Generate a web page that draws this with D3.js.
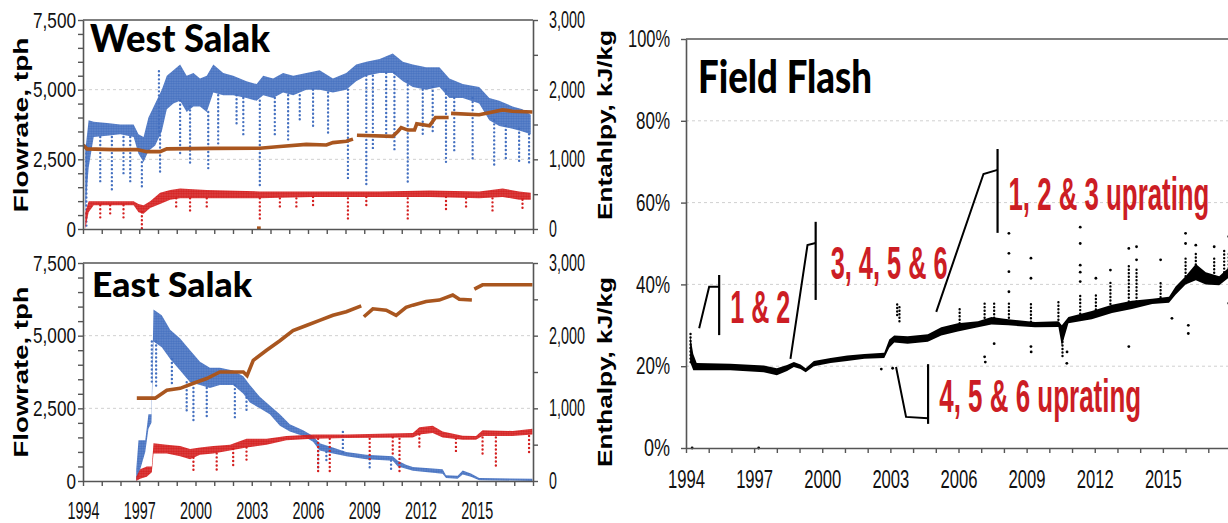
<!DOCTYPE html>
<html><head><meta charset="utf-8">
<script src="https://cdn.jsdelivr.net/npm/d3@7"></script>
<style>body{margin:0;background:#fff}svg{display:block}</style>
</head><body>
<svg id="c" width="1228" height="523"></svg>
<script>
// ---------------- DATA ----------------
const yearTicks = d3.range(1994, 2018);
const yearLabels = [1994, 1997, 2000, 2003, 2006, 2009, 2012, 2015];
const flowLabels = [0, 2500, 5000, 7500];
const enthLabels = [0, 1000, 2000, 3000];
const flashLabels = [0, 20, 40, 60, 80, 100];

// West Salak flowrate (blue) dense band: [year, low, high] tph
const wsFlowBand = [[1994.12,600,2800],[1994.30,2200,3900],[1994.57,3300,3850],[1995.28,3350,3800],[1995.99,3400,3750],[1996.70,3300,3750],[1996.96,2700,3400],[1997.23,2400,3300],[1997.49,2800,4000],[1997.85,3000,4500],[1998.20,3500,5000],[1998.47,4300,5500],[1998.82,4500,5700],[1999.18,4600,5900],[1999.53,4200,5500],[1999.89,4400,5600],[2000.24,4400,5400],[2000.60,4200,5500],[2000.95,4900,5900],[2001.48,4800,5600],[2002.01,4800,5500],[2002.72,4700,5300],[2003.26,4600,5200],[2003.61,4800,5500],[2004.14,4700,5400],[2004.67,4900,5600],[2005.21,4800,5500],[2005.91,5000,5600],[2006.62,5000,5700],[2007.33,4900,5400],[2008.04,5000,5600],[2008.57,5300,5900],[2009.11,5500,6000],[2009.82,5600,6100],[2010.52,5600,6300],[2011.06,5300,6000],[2011.59,5100,5900],[2012.30,5000,5800],[2013.01,5100,5800],[2013.54,4700,5400],[2014.25,4700,5200],[2015.13,4500,5100],[2015.67,3900,4700],[2016.20,3700,4600],[2016.91,3600,4400],[2017.44,3500,4300],[2017.88,3400,4100]];
// West Salak flowrate scattered drops: [year, from, to]
const wsFlowSpikes = [[1994.18,3000,0],[1994.92,3300,1600],[1995.54,3300,1300],[1996.16,3300,1900],[1996.52,3300,1700],[1997.14,2400,1500],[1998.05,3500,5800],[1998.11,3500,2000],[1999.18,4600,2700],[1999.71,4400,2300],[2000.68,4200,2100],[2001.21,4800,3000],[2002.19,4800,3700],[2002.55,4700,3300],[2003.43,4600,1500],[2004.23,4700,3300],[2004.94,4800,3200],[2005.56,4800,3800],[2006.27,5000,3700],[2007.07,4900,3400],[2008.13,5000,1700],[2009.11,5500,1600],[2009.46,5500,2800],[2010.17,5600,3200],[2010.61,5600,2800],[2011.32,5300,1600],[2012.12,5000,3300],[2012.65,5100,3400],[2013.36,5000,2300],[2013.80,4700,2700],[2014.78,4700,2500],[2015.93,3900,2200],[2016.55,3700,2500],[2017.26,3600,2400],[2017.79,3400,2300]];
// West Salak steam flow (red) band
const wsSteamBand = [[1994.12,0,600],[1994.30,600,1000],[1994.57,850,1000],[1996.70,850,1000],[1996.96,600,900],[1997.23,550,850],[1997.58,750,1000],[1998.11,900,1300],[1998.65,1050,1400],[1999.18,1100,1450],[2000.60,1100,1400],[2003.43,1100,1350],[2006.27,1150,1350],[2009.82,1150,1350],[2012.48,1150,1380],[2015.13,1100,1350],[2016.38,1150,1450],[2017.26,1050,1350],[2017.88,1050,1300]];
const wsSteamSpikes = [[1994.92,850,400],[1995.45,850,450],[1996.16,850,400],[1997.14,600,0],[1998.97,1100,700],[1999.71,1100,600],[2000.60,1100,700],[2003.43,1100,300],[2004.50,1100,700],[2005.38,1100,700],[2006.27,1150,750],[2008.13,1100,250],[2009.11,1150,750],[2011.32,1100,250],[2013.36,1150,600],[2014.43,1100,750],[2015.84,1100,650],[2017.44,1050,700]];
// West Salak enthalpy (brown), kJ/kg; null = gap
const wsEnth = [[1994.0,1206],[1994.21,1150],[1995.63,1140],[1996.87,1140],[1997.40,1110],[1998.11,1110],[1998.47,1150],[2000.95,1158],[2003.43,1160],[2004.50,1185],[2005.91,1215],[2006.98,1205],[2007.33,1240],[2008.04,1260],[2008.40,1290],null,[2008.61,1345],[2010.52,1330],[2010.79,1400],[2010.97,1455],[2011.32,1420],[2011.68,1420],[2011.80,1510],[2012.48,1480],[2012.80,1600],[2013.50,1600],null,[2013.63,1660],[2015.13,1640],[2016.38,1710],[2016.90,1690],[2017.97,1680]];
const wsEnthLow = [[2003.28,12],[2003.48,12]];

// East Salak flowrate (blue) band
const esFlowBand = [[1996.84,0,400],[1996.96,200,1400],[1997.32,1000,1400],[1997.49,1800,2300],[1997.65,2000,2300],[1997.76,4800,5900],[1998.20,4600,5700],[1998.65,4200,5200],[1999.18,3800,4900],[1999.71,3400,4500],[2000.24,3300,4100],[2000.77,3200,3900],[2001.30,3300,3900],[2002.01,3300,3800],[2002.55,3000,3600],[2002.90,2700,3300],[2003.43,2500,2900],[2003.96,2300,2600],[2004.50,1900,2300],[2005.03,1700,1950],[2005.74,1550,1750],[2006.27,1350,1550],[2006.62,1050,1300],[2007.33,950,1150],[2008.04,850,1000],[2009.11,750,900],[2010.52,700,850],[2010.79,500,700],[2011.23,420,560],[2011.59,350,480],[2013.18,250,400],[2013.36,100,200],[2013.98,80,180],[2014.25,220,360],[2014.69,150,260],[2015.13,30,100],[2017.97,0,80]];
const esFlowSpikes = [[1997.67,4800,3400],[1997.90,4800,3200],[1998.74,4200,3300],[1999.53,3400,2400],[1999.89,3200,2000],[2000.60,3200,2100],[2002.10,3300,2100],[2002.72,3000,2400],[2006.54,1300,400],[2006.98,1000,600],[2007.86,1000,1800],[2009.29,750,400],[2010.43,700,350]];
// East Salak steam flow (red) band
const esSteamBand = [[1996.84,0,150],[1997.05,80,400],[1997.40,150,500],[1997.67,300,500],[1997.76,950,1300],[1998.47,950,1250],[1999.18,850,1200],[1999.71,750,1100],[2000.24,900,1150],[2000.95,950,1200],[2001.84,1050,1250],[2002.72,1150,1450],[2003.79,1250,1450],[2004.85,1400,1550],[2006.27,1450,1600],[2008.04,1480,1600],[2011.59,1500,1650],[2011.94,1600,1850],[2012.65,1650,1900],[2013.18,1500,1700],[2014.25,1420,1560],[2014.96,1420,1550],[2015.31,1550,1750],[2016.91,1550,1720],[2017.97,1600,1800]];
const esSteamSpikes = [[1999.89,800,250],[2001.13,950,350],[2002.01,1100,450],[2002.72,1150,600],[2006.54,1450,300],[2007.16,1450,300],[2009.29,1450,700],[2010.52,1500,900],[2010.88,1450,250],[2011.94,1600,1100],[2013.89,1450,1000],[2015.31,1500,900],[2016.02,1500,450],[2017.79,1550,900]];
// East Salak enthalpy (brown)
const esEnth = [[1996.87,1140],[1997.85,1140],[1998.47,1250],[1999.18,1275],[1999.89,1345],[2000.60,1410],[2001.30,1500],[2002.55,1500],[2002.75,1450],[2003.08,1660],[2003.79,1800],[2004.50,1930],[2005.20,2070],[2005.91,2140],[2006.62,2210],[2007.33,2280],[2008.04,2330],[2008.84,2410],null,[2008.98,2260],[2009.46,2370],[2010.17,2350],[2010.70,2280],[2011.23,2390],[2011.59,2420],[2012.30,2470],[2013.00,2490],[2013.72,2560],[2014.07,2500],[2014.74,2490],null,[2014.87,2640],[2015.31,2700],[2017.97,2700]];

// Field flash (%) band
const flashBand = [[1994.18,21,27.5],[1994.32,19,23],[1994.47,19,20.8],[1995.95,19,20.6],[1997.42,18.5,20.2],[1998.00,17.8,19.5],[1998.45,18.8,20.3],[1998.75,19.8,21.0],[1999.04,19.3,20.4],[1999.27,18.5,19.5],[1999.63,20,21.3],[2000.37,20.8,22],[2001.10,21.3,22.6],[2001.85,21.8,23],[2002.73,22,23.3],[2002.95,24.5,26.5],[2003.17,25.8,27.5],[2003.76,25.5,27.3],[2004.65,26,27.8],[2005.24,27.5,29.5],[2005.97,28.5,30.5],[2006.86,29.5,31],[2007.45,30.2,32],[2008.19,30,31.5],[2009.37,29.5,30.8],[2010.40,29.6,31],[2010.55,25,30],[2010.84,30.5,32],[2011.87,31.5,33.5],[2012.76,33,35],[2013.64,34,36],[2014.53,35.2,36.5],[2015.27,35.5,37],[2015.56,37.5,39.5],[2016.00,40,42],[2016.45,41,45],[2016.89,40,43],[2017.48,39.8,42],[2017.98,42,44.5]];
const flashSpikes = [[1994.20,21,28],[2003.30,32.5,35.8],[2003.40,31,34.5],[2006.05,30.5,34.1],[2007.15,31,35.4],[2007.57,31,35.8],[2008.22,31,36],[2009.19,30,36],[2010.40,30.5,36.2],[2010.58,22.5,29],[2011.36,32,37.5],[2012.05,33,38],[2012.69,33.5,41],[2013.50,35,45],[2013.84,35,44],[2014.90,36,41],[2016.00,42,47],[2016.45,44,48],[2017.26,42,47],[2017.70,43,48.5],[2017.90,44,48]];
const flashDots = [[1994.27,0],[1997.20,0],[2002.60,19.3],[2003.10,19.5],[2007.15,22.3],[2007.18,21],[2007.57,25.5],[2008.22,52.5],[2008.22,47.6],[2008.22,43.1],[2008.22,38.2],[2009.19,46.4],[2009.19,41.5],[2009.19,24.8],[2009.20,23.5],[2010.77,20.7],[2010.78,23.5],[2011.36,54],[2011.36,50],[2011.36,44.7],[2011.36,43],[2011.36,40.7],[2012.05,41.5],[2012.69,43.5],[2013.50,48.8],[2013.50,24.8],[2013.84,49.2],[2013.84,46],[2014.90,46],[2015.40,31.7],[2016.00,52.5],[2016.00,50],[2016.12,30],[2016.12,28],[2016.45,49.6],[2017.26,49.2],[2017.90,51.7],[2017.90,35.4]];

// Annotations (year, %)
const annoTexts = [
  {t:"1 & 2", x:1995.95, y:30.6, w:60},
  {t:"3, 4, 5 & 6", x:2000.37, y:41.3, w:117},
  {t:"1, 2 & 3 uprating", x:2008.2, y:58.2, w:201},
  {t:"4, 5 & 6 uprating", x:2005.15, y:8.8, w:202}
];
const annoLeaders = [
  [[1994.58,29.3],[1995.02,39.4],[1995.46,39.4]],
  [[1998.60,21.8],[1999.35,49.6],[1999.71,50.1]],
  [[2005.02,33.3],[2007.10,67.0],[2007.72,68.0]],
  [[2003.25,19.8],[2003.69,7.6],[2004.66,7.3]]
];
const annoBars = [[1995.46,42.3,27.6],[1999.71,55.3,36.2],[2007.72,73.1,52.6],[2004.66,20.5,5.9]];

// ---------------- DRAW ----------------
const BLUE = "#4470c0", RED = "#d41f1f", BROWN = "#a9561f", AX = "#555";
const svg = d3.select("#c");
const NUM = "'Liberation Sans',Arial,sans-serif";
function labW(s, dw, cw, pw){ let w=0; for (const ch of String(s)) w += ch===","?cw:(ch==="%"?pw:dw); return w; }
function fitW(sel, w){ sel.attr("textLength", w).attr("lengthAdjust","spacingAndGlyphs"); }
function fitLab(sel, dw, cw, pw){ sel.each(function(){ const s=this.textContent; if(!s) return; this.setAttribute("textLength", labW(s,dw,cw,pw)); this.setAttribute("lengthAdjust","spacingAndGlyphs"); }); }
const fmt = d3.format(",");

const defs = svg.append("defs");
function pattern(id, col){
  const p = defs.append("pattern").attr("id",id).attr("width",2.5).attr("height",2.5).attr("patternUnits","userSpaceOnUse");
  p.append("rect").attr("width",2.5).attr("height",2.5).attr("fill",col).attr("opacity",0.8);
  p.append("circle").attr("cx",1.25).attr("cy",1.25).attr("r",1.1).attr("fill",col);
}
pattern("pB", BLUE); pattern("pR", RED);

function styleAxis(g){ g.selectAll("path.domain").attr("stroke", AX).attr("stroke-width",1.6); g.selectAll(".tick line").attr("stroke", AX).attr("stroke-width",1.4); }

function salakPanel(o){
  const x = d3.scaleLinear([1994, 2018], [83, 533]);
  const yF = d3.scaleLinear([0, 7500], [o.bot, o.top]);
  const yE = d3.scaleLinear([0, 3000], [o.bot, o.top]);
  const g = svg.append("g");
  const cid = "clip"+o.id;
  svg.append("clipPath").attr("id", cid).append("rect").attr("x",83).attr("y",o.top-2).attr("width",450).attr("height",o.bot-o.top+3);
  g.selectAll("line.grid").data([2500,5000]).join("line").attr("x1",83).attr("x2",533).attr("y1",d=>yF(d)).attr("y2",d=>yF(d)).attr("stroke","#d0d0d0").attr("stroke-dasharray","3,3");
  const pg = g.append("g").attr("clip-path",`url(#${cid})`);
  const band = (data, y, pat) => {
    pg.append("path").datum(data).attr("fill", `url(#${pat})`)
      .attr("d", d3.area().x(d=>x(d[0])).y0(d=>y(d[1])).y1(d=>y(d[2])));
  };
  const spikes = (data, y, col) => {
    pg.selectAll(null).data(data).join("line").attr("x1",d=>x(d[0])).attr("x2",d=>x(d[0])).attr("y1",d=>y(d[1])).attr("y2",d=>y(d[2]))
      .attr("stroke", col).attr("stroke-width",2.4).attr("stroke-linecap","round").attr("stroke-dasharray","0.01,4");
  };
  band(o.flow, yF, "pB"); spikes(o.flowSp, yF, BLUE);
  band(o.steam, yF, "pR"); spikes(o.steamSp, yF, RED);
  const ln = d3.line().defined(d=>d!==null).x(d=>x(d[0])).y(d=>yE(d[1]));
  pg.append("path").datum(o.enth).attr("fill","none").attr("stroke",BROWN).attr("stroke-width",3.6).attr("d", ln);
  if (o.enthLow) pg.append("path").datum(o.enthLow).attr("fill","none").attr("stroke",BROWN).attr("stroke-width",3.6).attr("d", ln);
  g.append("line").attr("x1",83).attr("x2",533).attr("y1",o.top).attr("y2",o.top).attr("stroke",AX).attr("stroke-width",1.6);
  const ax = g.append("g").attr("transform",`translate(0,${o.bot})`)
    .call(d3.axisBottom(x).tickValues(yearTicks.concat([2018])).tickSize(5).tickSizeOuter(0).tickFormat(d => o.labels && yearLabels.includes(d) ? d : ""));
  styleAxis(ax);
  ax.selectAll("text").attr("font-family",NUM).attr("font-size",23).attr("fill","#111").attr("dy",null).attr("y",37.5).call(fitLab, 8, 4, 16);
  const al = g.append("g").attr("transform","translate(83,0)")
    .call(d3.axisLeft(yF).tickValues(d3.range(0,7501,500)).tickSize(5).tickSizeOuter(0).tickPadding(2).tickFormat(d => flowLabels.includes(d) ? fmt(d) : ""));
  styleAxis(al);
  al.selectAll("text").attr("font-family",NUM).attr("font-size",22).attr("fill","#111").call(fitLab, 9.5, 5, 16);
  const ar = g.append("g").attr("transform","translate(533,0)")
    .call(d3.axisRight(yE).tickValues(d3.range(0,3001,500)).tickSize(5).tickSizeOuter(0).tickPadding(11).tickFormat(d => enthLabels.includes(d) ? fmt(d) : ""));
  styleAxis(ar);
  ar.selectAll("text").attr("font-family",NUM).attr("font-size",23).attr("fill","#111").call(fitLab, 7.9, 4.4, 16);
  g.append("text").attr("x",o.tx).attr("y",o.ty).attr("font-family","Lato,'Open Sans',sans-serif").attr("font-weight",900).attr("font-size",o.tfs).attr("fill","#000").text(o.title).call(fitW, o.tw);
  g.append("text").attr("transform",`translate(28,${o.ly}) rotate(-90)`).attr("text-anchor","middle").attr("font-family","'Liberation Sans',Arial,sans-serif").attr("font-weight",700).attr("font-size",21).attr("fill","#000").text("Flowrate, tph").call(fitW, o.lw);
  g.append("text").attr("transform",`translate(612,${o.ly}) rotate(-90)`).attr("text-anchor","middle").attr("font-family","'Liberation Sans',Arial,sans-serif").attr("font-weight",700).attr("font-size",21).attr("fill","#000").text(o.rlabel).call(fitW, 190);
}

salakPanel({id:1, top:20, bot:229, flow:wsFlowBand, flowSp:wsFlowSpikes, steam:wsSteamBand, steamSp:wsSteamSpikes, enth:wsEnth, enthLow:wsEnthLow, labels:false,
  title:"West Salak", tx:90, ty:52, tfs:37, tw:180, ly:125, lw:175, rlabel:"Entahlpy, kJ/kg"});
salakPanel({id:2, top:263, bot:481, flow:esFlowBand, flowSp:esFlowSpikes, steam:esSteamBand, steamSp:esSteamSpikes, enth:esEnth, labels:true,
  title:"East Salak", tx:92, ty:297, tfs:35, tw:160, ly:372, lw:171, rlabel:"Enthalpy, kJ/kg"});

// Field flash panel
(function(){
  const x = d3.scaleLinear([1994, 2018], [686, 1231]);
  const y = d3.scaleLinear([0, 100], [448, 39]);
  const g = svg.append("g");
  g.selectAll("line.grid").data([20,40,60,80]).join("line").attr("x1",686).attr("x2",1228).attr("y1",d=>y(d)).attr("y2",d=>y(d)).attr("stroke","#d0d0d0").attr("stroke-dasharray","3,3");
  g.append("path").datum(flashBand).attr("fill","#000").attr("d", d3.area().x(d=>x(d[0])).y0(d=>y(d[1])).y1(d=>y(d[2])));
  g.selectAll(null).data(flashSpikes).join("line").attr("x1",d=>x(d[0])).attr("x2",d=>x(d[0])).attr("y1",d=>y(d[1])).attr("y2",d=>y(d[2]))
    .attr("stroke","#000").attr("stroke-width",2.4).attr("stroke-linecap","round").attr("stroke-dasharray","0.01,3.5");
  g.selectAll(null).data(flashDots).join("circle").attr("cx",d=>x(d[0])).attr("cy",d=>y(d[1])).attr("r",1.4).attr("fill","#000");
  g.append("line").attr("x1",686).attr("x2",1228).attr("y1",39).attr("y2",39).attr("stroke",AX).attr("stroke-width",1.6);
  const ax = g.append("g").attr("transform","translate(0,448)")
    .call(d3.axisBottom(x).tickValues(yearTicks.concat([2018])).tickSize(5).tickSizeOuter(0).tickFormat(d => yearLabels.includes(d) ? d : ""));
  styleAxis(ax);
  ax.selectAll("text").attr("font-family",NUM).attr("font-size",25).attr("fill","#111").attr("dy",null).attr("y",40).call(fitLab, 9.25, 4, 16);
  const al = g.append("g").attr("transform","translate(686,0)")
    .call(d3.axisLeft(y).tickValues(flashLabels).tickSize(5).tickSizeOuter(0).tickPadding(11).tickFormat(d => d + "%"));
  styleAxis(al);
  al.selectAll("text").attr("font-family",NUM).attr("font-size",24).attr("fill","#111").call(fitLab, 8, 4, 18);
  g.append("text").attr("x",698).attr("y",93).attr("font-family","Lato,'Open Sans',sans-serif").attr("font-weight",900).attr("font-size",46).attr("fill","#000").text("Field Flash").call(fitW,174);
  const ln = d3.line().x(d=>x(d[0])).y(d=>y(d[1]));
  g.selectAll(null).data(annoLeaders).join("path").attr("d", ln).attr("fill","none").attr("stroke","#000").attr("stroke-width",2);
  g.selectAll(null).data(annoBars).join("line").attr("x1",d=>x(d[0])).attr("x2",d=>x(d[0])).attr("y1",d=>y(d[1])).attr("y2",d=>y(d[2])).attr("stroke","#000").attr("stroke-width",2.2);
  // condensed red annotation text: horizontal scale so the box matches the reference width
  g.selectAll(null).data(annoTexts).join("text")
    .attr("font-family","'Liberation Sans',Arial,sans-serif").attr("font-weight",700).attr("font-size",46).attr("fill","#cc1d24")
    .text(d=>d.t)
    .each(function(d){ const nat=this.getComputedTextLength(); d3.select(this).attr("transform",`translate(${x(d.x)},${y(d.y)}) scale(${d.w/nat},1)`); });
})();
</script>
</body></html>
